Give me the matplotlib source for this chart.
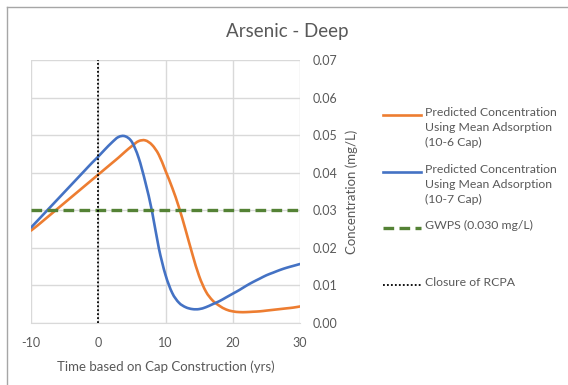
import matplotlib
matplotlib.use("Agg")
import matplotlib.pyplot as plt
from matplotlib.lines import Line2D
from matplotlib.path import Path
from matplotlib.patches import PathPatch

plt.rcParams['font.family'] = ['Lato', 'DejaVu Sans']
plt.rcParams['axes.unicode_minus'] = False

years = list(range(-10, 31))
conc_10_6 = [0.0246, 0.0260, 0.0275, 0.0290, 0.0305, 0.0320, 0.0335, 0.0350, 0.0365, 0.0380,
             0.0395, 0.0410, 0.0425, 0.0440, 0.0456, 0.0471, 0.0484, 0.0486, 0.0474, 0.0448,
             0.0405, 0.0360, 0.0308, 0.0247, 0.0183, 0.0125, 0.0084, 0.0060, 0.0046, 0.0036,
             0.0031, 0.0029, 0.0029, 0.0030, 0.0031, 0.0033, 0.0035, 0.0037, 0.0039, 0.0041,
             0.0044]
conc_10_7 = [0.0254, 0.0273, 0.0292, 0.0311, 0.0330, 0.0349, 0.0368, 0.0387, 0.0406, 0.0425,
             0.0443, 0.0462, 0.0480, 0.0495, 0.0497, 0.0482, 0.0440, 0.0375, 0.0297, 0.0200,
             0.0128, 0.0080, 0.0054, 0.0042, 0.0037, 0.0037, 0.0042, 0.0050, 0.0058, 0.0068,
             0.0078, 0.0088, 0.0099, 0.0109, 0.0118, 0.0127, 0.0134, 0.0141, 0.0147, 0.0152,
             0.0157]
gwps = 0.030
closure_year = 0
x_ticks = [-10, 0, 10, 20, 30]
y_ticks = [0.00, 0.01, 0.02, 0.03, 0.04, 0.05, 0.06, 0.07]

labels = ["Predicted Concentration\nUsing Mean Adsorption\n(10-6 Cap)",
          "Predicted Concentration\nUsing Mean Adsorption\n(10-7 Cap)",
          "GWPS (0.030 mg/L)",
          "Closure of RCPA"]

ORANGE = "#ED7D31"
BLUE = "#4472C4"
GREEN = "#548235"
TXT = "#595959"
GRID = "#D9D9D9"


def smooth_path(xs, ys, t=1 / 6):
    """Excel-like smoothed line: Bezier segments through the data points."""
    verts = [(xs[0], ys[0])]
    codes = [Path.MOVETO]
    n = len(xs)
    for i in range(n - 1):
        x0, y0 = (xs[i - 1], ys[i - 1]) if i > 0 else (xs[i], ys[i])
        x1, y1 = xs[i], ys[i]
        x2, y2 = xs[i + 1], ys[i + 1]
        x3, y3 = (xs[i + 2], ys[i + 2]) if i + 2 < n else (x2, y2)
        c1 = (x1 + (x2 - x0) * t, y1 + (y2 - y0) * t)
        c2 = (x2 - (x3 - x1) * t, y2 - (y3 - y1) * t)
        verts += [c1, c2, (x2, y2)]
        codes += [Path.CURVE4] * 3
    return Path(verts, codes)


W, H = 568, 385
fig = plt.figure(figsize=(W / 100, H / 100), dpi=100)
ax = fig.add_axes([31 / W, (H - 323) / H, 269 / W, 263 / H])

ax.add_patch(PathPatch(smooth_path(years, conc_10_6), fill=False, edgecolor=ORANGE,
                       lw=1.9, zorder=3, capstyle="round", joinstyle="round"))
ax.add_patch(PathPatch(smooth_path(years, conc_10_7), fill=False, edgecolor=BLUE,
                       lw=1.9, zorder=4, capstyle="round", joinstyle="round"))
ax.axhline(gwps, color=GREEN, lw=2.4, ls=(0, (3.2, 1.6)), zorder=5)
ax.axvline(closure_year, color="black", lw=1.3, ls=(0, (1, 1.2)), zorder=6)

ax.set_xlim(-10, 30)
ax.set_ylim(0, 0.07)
ax.set_xticks(x_ticks)
ax.set_yticks(y_ticks)
ax.set_yticklabels([f"{v:.2f}" for v in y_ticks])
ax.yaxis.tick_right()
ax.yaxis.set_label_position("right")
ax.tick_params(axis='both', length=0, labelsize=9, labelcolor=TXT)
ax.tick_params(axis='y', pad=9)
ax.tick_params(axis='x', pad=10)
ax.grid(True, color=GRID, lw=1)
ax.set_axisbelow(True)
for s in ['top', 'left', 'right']:
    ax.spines[s].set_visible(False)
ax.spines['bottom'].set_color(GRID)

ax.set_xlabel("Time based on Cap Construction (yrs)", fontsize=9.5, color=TXT, labelpad=8)
ax.set_ylabel("Concentration (mg/L)", fontsize=9.5, color=TXT, labelpad=6)

fig.text(287 / W, 1 - 31 / H, "Arsenic - Deep", fontsize=13.5, color=TXT,
         ha="center", va="center")

# legend
handles = [dict(color=ORANGE, lw=1.9, ls="-"),
           dict(color=BLUE, lw=1.9, ls="-"),
           dict(color=GREEN, lw=2.4, ls=(0, (3.2, 1.6))),
           dict(color="black", lw=1.3, ls=(0, (1, 1.2)))]
ys = [115, 172, 228, 285]
for h, lab, yy in zip(handles, labels, ys):
    fig.add_artist(Line2D([383 / W, 421 / W], [1 - yy / H, 1 - yy / H],
                          transform=fig.transFigure, **h))
    fig.text(425 / W, 1 - (yy - 8) / H, lab, fontsize=8.8, color=TXT,
             ha="left", va="top", linespacing=1.42)

# outer frame
fig.add_artist(Line2D([6.5 / W, 1], [1 - 6.5 / H, 1 - 6.5 / H], transform=fig.transFigure,
                      color="#A6A6A6", lw=1))
fig.add_artist(Line2D([6.5 / W, 6.5 / W], [0, 1 - 6.5 / H], transform=fig.transFigure,
                      color="#A6A6A6", lw=1))

fig.savefig("out.png", dpi=100)
